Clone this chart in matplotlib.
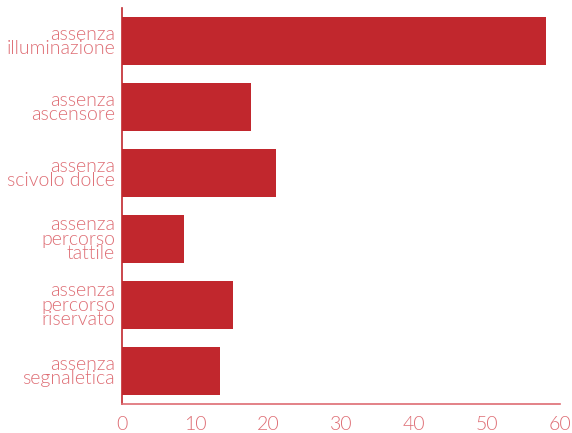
import matplotlib
matplotlib.use("Agg")
import matplotlib.pyplot as plt

labels = ["assenza\nilluminazione", "assenza\nascensore", "assenza\nscivolo dolce",
          "assenza\npercorso\ntattile", "assenza\npercorso\nriservato", "assenza\nsegnaletica"]
values = [58.1, 17.7, 21.1, 8.5, 15.2, 13.4]
xticks = [0, 10, 20, 30, 40, 50, 60]

bar_color = "#C1272D"
text_color = "#DE6C73"

plt.rcParams['font.family'] = ['Lato', 'DejaVu Sans']

fig = plt.figure(figsize=(5.72, 4.33), dpi=100)
ax = fig.add_axes([122/572, (433-404)/433, (560-122)/572, (404-8)/433])

pos = list(range(len(labels)))
ax.barh(pos, values, height=0.73, color=bar_color)
ax.set_ylim(len(labels) - 0.5, -0.5)
ax.set_xlim(0, 60)
ax.set_xticks(xticks)
ax.set_yticks(pos)
ax.set_yticklabels(labels, linespacing=0.82)

for t in ax.get_yticklabels() + ax.get_xticklabels():
    t.set_color(text_color)
    t.set_fontsize(14)
    t.set_fontweight(300)
ax.tick_params(length=0)
ax.tick_params(axis='y', pad=5)
ax.tick_params(axis='x', pad=9)

for s in ["top", "right"]:
    ax.spines[s].set_visible(False)
ax.spines["left"].set_color(bar_color)
ax.spines["bottom"].set_color(text_color)
ax.spines["left"].set_linewidth(1.2)
ax.spines["bottom"].set_linewidth(1.2)

fig.savefig("out.png", dpi=100)
